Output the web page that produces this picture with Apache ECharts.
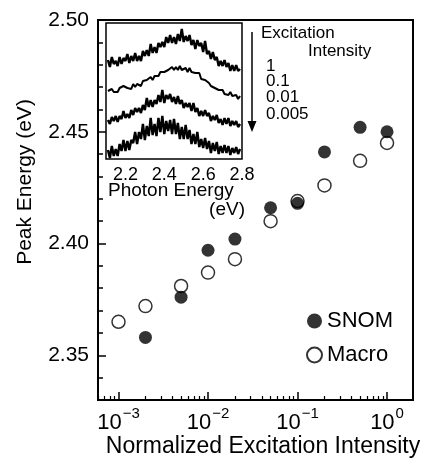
<!DOCTYPE html>
<html>
<head>
<meta charset="utf-8">
<script src="https://cdn.jsdelivr.net/npm/echarts@6/dist/echarts.min.js"></script>
<style>
html,body{margin:0;padding:0;background:#fff;}
#chart{width:430px;height:466px;}
</style>
</head>
<body>
<div id="chart"></div>
<script>
// ---- Main chart data ----
const intensities = [0.001, 0.002, 0.005, 0.01, 0.02, 0.05, 0.1, 0.2, 0.5, 1];
const snomX = [0.002, 0.005, 0.01, 0.02, 0.05, 0.1, 0.2, 0.5, 1];
const snomY = [2.358, 2.376, 2.397, 2.402, 2.416, 2.418, 2.441, 2.452, 2.450];
const macroX = [0.001, 0.002, 0.005, 0.01, 0.02, 0.05, 0.1, 0.2, 0.5, 1];
const macroY = [2.365, 2.372, 2.381, 2.387, 2.393, 2.410, 2.419, 2.426, 2.437, 2.445];
const xMajorTicks = [0.001, 0.01, 0.1, 1];
const xMinorTicks = [0.0006,0.0007,0.0008,0.0009,
  0.002,0.003,0.004,0.005,0.006,0.007,0.008,0.009,
  0.02,0.03,0.04,0.05,0.06,0.07,0.08,0.09,
  0.2,0.3,0.4,0.5,0.6,0.7,0.8,0.9];
const yMajorTicks = [2.35, 2.40, 2.45, 2.50];

// ---- Inset spectra (photon energy in eV, offset intensity) ----
const photonEnergy = [2.11,2.12,2.13,2.14,2.15,2.16,2.17,2.18,2.19,2.20,
  2.21,2.22,2.23,2.24,2.25,2.26,2.27,2.28,2.29,2.30,
  2.31,2.32,2.33,2.34,2.35,2.36,2.37,2.38,2.39,2.40,
  2.41,2.42,2.43,2.44,2.45,2.46,2.47,2.48,2.49,2.50,
  2.51,2.52,2.53,2.54,2.55,2.56,2.57,2.58,2.59,2.60,
  2.61,2.62,2.63,2.64,2.65,2.66,2.67,2.68,2.69,2.70,
  2.71,2.72,2.73,2.74,2.75,2.76,2.77,2.78,2.79];
const spec1 = [99,92,102,95,98,93,102,95,101,98,105,96,103,98,106,98,103,98,108,103,
  109,103,115,106,112,106,116,112,117,112,122,116,124,116,122,115,125,118,130,117,
  123,118,124,114,119,110,119,113,116,107,118,105,108,100,107,99,102,93,98,93,
  99,92,96,88,94,88,94,88,90];
const spec2 = [68,66,70,67,69,67,71,69,73,71,71,73,70,75,72,75,74,73,78,76,
  79,78,82,79,83,83,83,87,85,87,85,89,89,92,89,92,89,93,89,90,
  91,87,91,87,88,86,84,86,80,82,79,80,76,73,75,71,73,69,69,69,
  65,67,64,67,63,63,64,60,63];
const spec3 = [39,35,42,38,43,37,43,40,48,41,45,41,49,44,51,47,51,46,54,49,
  61,52,59,52,59,55,64,57,69,56,64,60,65,57,62,55,63,55,59,51,
  56,52,56,48,56,47,51,43,48,43,49,43,46,38,43,39,44,36,40,34,
  41,35,41,33,38,34,38,32,35];
const spec4 = [9,1,13,3,10,3,15,8,19,8,18,9,19,16,27,15,27,20,35,19,
  33,23,41,24,35,23,41,27,43,25,38,28,39,25,40,25,36,20,32,20,
  34,20,29,15,25,15,27,12,20,11,21,10,18,6,16,8,17,5,13,6,
  14,6,13,4,11,6,12,5,10];
const insetTicks = [2.2, 2.4, 2.6, 2.8];
const insetLegendLabels = ['1', '0.1', '0.01', '0.005'];

const FONT = 'Liberation Sans, Arial, Helvetica, sans-serif';
const pair = (xs, ys) => xs.map((x, i) => [x, ys[i]]);

const chart = echarts.init(document.getElementById('chart'), null, {renderer: 'canvas'});

const specWidths = [2.4, 2.0, 2.4, 2.4];
const specSeries = [spec1, spec2, spec3, spec4].map((s, k) => ({
  type: 'line', name: 'spec' + insetLegendLabels[k],
  xAxisIndex: 2, yAxisIndex: 2,
  data: pair(photonEnergy, s),
  showSymbol: false, symbol: 'none',
  lineStyle: {color: '#000', width: specWidths[k]},
  silent: true, z: 5
}));

const option = {
  backgroundColor: '#fff',
  animation: false,
  grid: [
    {left: 98, top: 20, right: 17, bottom: 66, show: true, borderColor: '#000', borderWidth: 2, backgroundColor: 'transparent'},
    {left: 106, top: 23, width: 136, height: 136, show: true, borderColor: '#000', borderWidth: 1.5, backgroundColor: '#fff', z: 3}
  ],
  legend: {
    orient: 'vertical', left: 301, top: 305, itemGap: 12,
    itemWidth: 15, itemHeight: 15, icon: 'circle',
    textStyle: {fontSize: 22, fontFamily: FONT, color: '#000'},
    data: ['SNOM', 'Macro']
  },
  xAxis: [
    {
      type: 'log', gridIndex: 0, min: 0.00059, max: 1.95,
      axisLine: {show: true, lineStyle: {color: '#000', width: 2}},
      splitLine: {show: false},
      axisTick: {show: true, inside: true, length: 8, customValues: xMajorTicks, lineStyle: {color: '#000', width: 1.5}},
      axisLabel: {
        customValues: xMajorTicks, margin: 6, color: '#000',
        formatter: v => '{b|10}{s|' + String(Math.round(Math.log10(v))).replace('-', '\u2212') + '}',
        rich: {
          b: {fontSize: 22, fontFamily: FONT, color: '#000', lineHeight: 28, verticalAlign: 'bottom'},
          s: {fontSize: 15, fontFamily: FONT, color: '#000', lineHeight: 28, verticalAlign: 'top', padding: [0, 0, 10, 1]}
        }
      }
    },
    {
      type: 'log', gridIndex: 0, min: 0.00059, max: 1.95, position: 'bottom',
      axisLine: {show: false}, splitLine: {show: false},
      axisTick: {show: true, inside: true, length: 4, customValues: xMinorTicks, lineStyle: {color: '#000', width: 1.2}},
      axisLabel: {show: false}
    },
    {
      type: 'value', gridIndex: 1, min: 2.1, max: 2.8,
      axisLine: {show: false}, splitLine: {show: false},
      axisTick: {show: false},
      axisLabel: {customValues: insetTicks, margin: 7, fontSize: 18, fontFamily: FONT, color: '#000', formatter: v => v.toFixed(1)}
    }
  ],
  yAxis: [
    {
      type: 'value', gridIndex: 0, min: 2.33, max: 2.50,
      axisLine: {show: true, lineStyle: {color: '#000', width: 2}},
      splitLine: {show: false},
      axisTick: {show: true, inside: true, length: 8, customValues: yMajorTicks, lineStyle: {color: '#000', width: 1.5}},
      axisLabel: {customValues: yMajorTicks, margin: 9, fontSize: 21, fontFamily: FONT, color: '#000', formatter: v => v.toFixed(2)}
    },
    {
      type: 'value', gridIndex: 0, min: 2.33, max: 2.50, interval: 0.01, position: 'left',
      axisLine: {show: false}, splitLine: {show: false},
      axisTick: {show: true, inside: true, length: 5, lineStyle: {color: '#000', width: 1.5}},
      axisLabel: {show: false}
    },
    {
      type: 'value', gridIndex: 1, min: 0, max: 136, show: false
    }
  ],
  graphic: [
    {type: 'text', x: 25, y: 182, rotation: Math.PI / 2,
     style: {text: 'Peak Energy (eV)', fontSize: 21, fontFamily: FONT, fill: '#000', align: 'center', verticalAlign: 'middle'}},
    {type: 'text', x: 263, y: 447,
     style: {text: 'Normalized Excitation Intensity', fontSize: 23, fontFamily: FONT, fill: '#000', align: 'center', verticalAlign: 'middle'}},
    {type: 'text', x: 108, y: 191,
     style: {text: 'Photon Energy', fontSize: 19, fontFamily: FONT, fill: '#000', align: 'left', verticalAlign: 'middle'}},
    {type: 'text', x: 245, y: 210,
     style: {text: '(eV)', fontSize: 19, fontFamily: FONT, fill: '#000', align: 'right', verticalAlign: 'middle'}},
    {type: 'text', x: 261, y: 33,
     style: {text: 'Excitation', fontSize: 17, fontFamily: FONT, fill: '#000', align: 'left', verticalAlign: 'middle'}},
    {type: 'text', x: 308, y: 51,
     style: {text: 'Intensity', fontSize: 17, fontFamily: FONT, fill: '#000', align: 'left', verticalAlign: 'middle'}},
    {type: 'text', x: 266, y: 66,
     style: {text: insetLegendLabels[0], fontSize: 17, fontFamily: FONT, fill: '#000', align: 'left', verticalAlign: 'middle'}},
    {type: 'text', x: 266, y: 81,
     style: {text: insetLegendLabels[1], fontSize: 17, fontFamily: FONT, fill: '#000', align: 'left', verticalAlign: 'middle'}},
    {type: 'text', x: 266, y: 97,
     style: {text: insetLegendLabels[2], fontSize: 17, fontFamily: FONT, fill: '#000', align: 'left', verticalAlign: 'middle'}},
    {type: 'text', x: 266, y: 114,
     style: {text: insetLegendLabels[3], fontSize: 17, fontFamily: FONT, fill: '#000', align: 'left', verticalAlign: 'middle'}},
    {type: 'line', shape: {x1: 252, y1: 32, x2: 252, y2: 124}, style: {stroke: '#000', lineWidth: 1.5}},
    {type: 'polygon', shape: {points: [[247.5, 121], [256.5, 121], [252, 132]]}, style: {fill: '#000'}}
  ],
  series: [
    {
      name: 'Macro', type: 'scatter', xAxisIndex: 0, yAxisIndex: 0,
      data: pair(macroX, macroY), symbol: 'circle', symbolSize: 13,
      itemStyle: {color: '#fff', borderColor: '#000', borderWidth: 1.5}, z: 3
    },
    {
      name: 'SNOM', type: 'scatter', xAxisIndex: 0, yAxisIndex: 0,
      data: pair(snomX, snomY), symbol: 'circle', symbolSize: 13,
      itemStyle: {color: '#000'}, z: 4
    }
  ].concat(specSeries)
};
chart.setOption(option);
</script>
</body>
</html>
